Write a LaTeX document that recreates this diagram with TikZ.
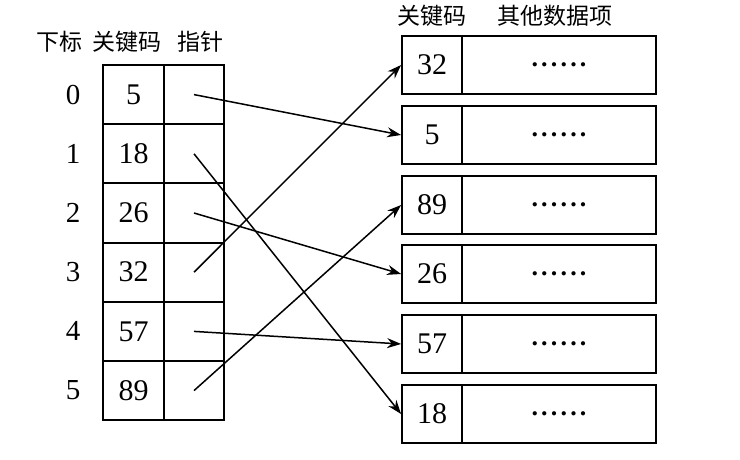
\documentclass[tikz,border=0pt]{standalone}
\usepackage{fontspec}
\setmainfont{Liberation Serif}
\newfontfamily\cjk{Noto Sans CJK SC}
\usetikzlibrary{arrows.meta}
\newcommand{\sixdots}{\textbf{.\hspace{3.2pt}.\hspace{3.2pt}.\hspace{3.2pt}.\hspace{3.2pt}.\hspace{3.2pt}.}}
\begin{document}
\begin{tikzpicture}[x=1pt,y=-1pt,
  cell/.style={draw,line width=1.8pt,inner sep=0pt,minimum height=59.3pt,font=\fontsize{30}{32}\selectfont},
  rcell/.style={draw,line width=1.8pt,inner sep=0pt,minimum height=58pt,font=\fontsize{30}{32}\selectfont},
  hdr/.style={font=\cjk\fontsize{23}{26}\selectfont,inner sep=0pt},
  idx/.style={font=\fontsize{29}{30}\selectfont,inner sep=0pt},
  ptr/.style={line width=1.5pt,-{Stealth[length=14pt,width=10pt]}}]
\useasboundingbox (0,0) rectangle (740,460);
% headers
\node[hdr] (h1) at (59,42) {下标};
\node[hdr] (h2) at (127,42) {关键码};
\node[hdr] (h3) at (200,42) {指针};
\node[hdr] (h4) at (432,16) {关键码};
\node[hdr] (h5) at (555,16) {其他数据项};
% left table
\foreach \i/\k in {0/5,1/18,2/26,3/32,4/57,5/89}{
  \node[idx] (i\i) at (73,{94.6+59.2*\i}) {\i};
  \node[cell,minimum width=61pt] (k\i) at (133.5,{94.6+59.2*\i}) {\k};
  \node[cell,minimum width=60pt] (p\i) at (194,{94.6+59.2*\i}) {};
}
% right boxes
\foreach \j/\k/\t in {1/32/36,2/5/106,3/89/176,4/26/245,5/57/315,6/18/385}{
  \node[rcell,minimum width=60pt] (r\j) at (432,{\t+29}) {\k};
  \node[rcell,minimum width=194pt,font=\fontsize{26}{30}\selectfont] (d\j) at (559,{\t+29}) {\sixdots};
}
% pointers
\draw[ptr] (p0.center) -- (r2.west);
\draw[ptr] (p1.center) -- (r6.west);
\draw[ptr] (p2.center) -- (r4.west);
\draw[ptr] (p3.center) -- (r1.west);
\draw[ptr] (p4.center) -- (r5.west);
\draw[ptr] (p5.center) -- (r3.west);
\end{tikzpicture}
\end{document}
